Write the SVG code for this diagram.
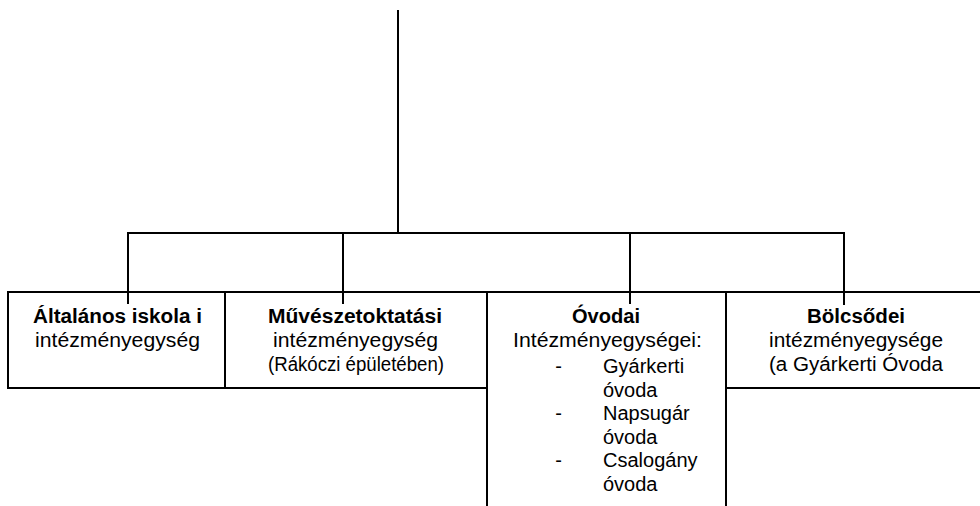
<svg xmlns="http://www.w3.org/2000/svg" width="980" height="506" viewBox="0 0 980 506">
<style>
.ln{stroke:#000;stroke-width:2;fill:none;stroke-linecap:square}
text{font-family:"Liberation Sans",Arial,sans-serif;font-size:20px;fill:#000}
.b{font-weight:bold}
.c{text-anchor:middle}
</style>
<rect width="980" height="506" fill="#fff"/>
<g id="connectors">
<path class="ln" d="M398 11V233M128 233H844M128 233V303M343 233V303M630 233V303M844 233V304"/>
</g>
<g id="node-altalanos">
<path class="ln" d="M8 292H225M8 292V388H225V292"/>
<text class="b" x="33" y="323" textLength="169" lengthAdjust="spacingAndGlyphs">Általános iskola i</text>
<text x="35" y="347" textLength="165" lengthAdjust="spacingAndGlyphs">intézményegység</text>
</g>
<g id="node-muveszet">
<path class="ln" d="M225 292H487M225 388H487"/>
<text class="b" x="268" y="323" textLength="174" lengthAdjust="spacingAndGlyphs">Művészetoktatási</text>
<text x="273" y="347" textLength="165" lengthAdjust="spacingAndGlyphs">intézményegység</text>
<text x="268" y="370.5" textLength="176" lengthAdjust="spacingAndGlyphs">(Rákóczi épületében)</text>
</g>
<g id="node-ovodai">
<path class="ln" d="M487 292H726M487 292V506M726 292V506"/>
<text class="b" x="572" y="323" textLength="68" lengthAdjust="spacingAndGlyphs">Óvodai</text>
<text x="513" y="347" textLength="189" lengthAdjust="spacingAndGlyphs">Intézményegységei:</text>
<text class="c" x="558.5" y="373">-</text>
<text x="603" y="373">Gyárkerti</text>
<text x="603" y="396.5">óvoda</text>
<text class="c" x="558.5" y="420">-</text>
<text x="603" y="420">Napsugár</text>
<text x="603" y="443.5">óvoda</text>
<text class="c" x="558.5" y="467">-</text>
<text x="603" y="467">Csalogány</text>
<text x="603" y="491">óvoda</text>
</g>
<g id="node-bolcsodei">
<path class="ln" d="M726 292H980M726 388H980"/>
<text class="b" x="807" y="323" textLength="98" lengthAdjust="spacingAndGlyphs">Bölcsődei</text>
<text x="769" y="347" textLength="174" lengthAdjust="spacingAndGlyphs">intézményegysége</text>
<text x="769" y="370.5" textLength="174" lengthAdjust="spacingAndGlyphs">(a Gyárkerti Óvoda</text>
</g>
</svg>
